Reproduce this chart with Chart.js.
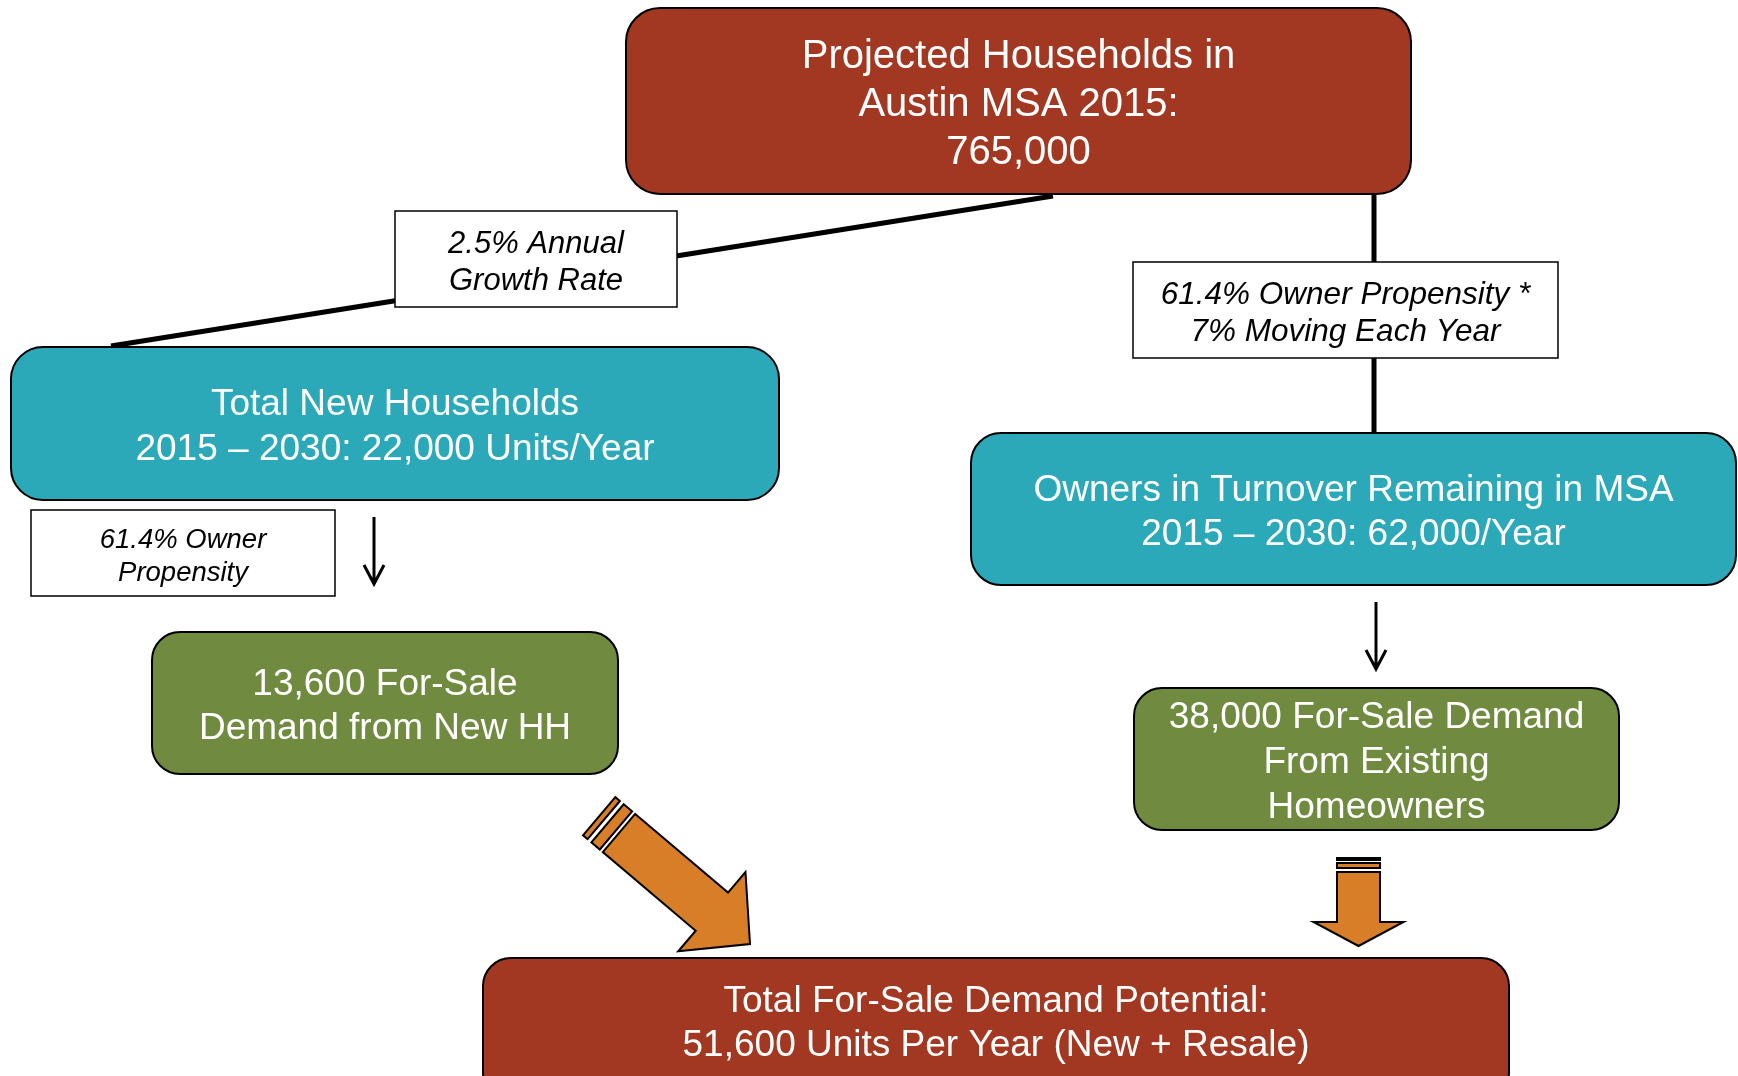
<!DOCTYPE html>
<html>
<head>
<meta charset="utf-8">
<script src="https://cdn.jsdelivr.net/npm/chart.js@4/dist/chart.umd.min.js"></script>
<style>
  html, body { margin: 0; padding: 0; background: #fff; }
  #flow { display: block; }
</style>
</head>
<body>
<canvas id="flow" width="1738" height="1076"></canvas>
<script>
// figures shown in the flow
const households2015 = 765000
const newHouseholdsPerYear = 22000
const newOwnerDemand = 13600
const turnoverOwnersPerYear = 62000
const existingOwnerDemand = 38000
const totalDemand = 51600
const growthRate = 2.5
const ownerPropensity = 61.4
const movingShare = 7
const periodStart = 2015
const periodEnd = 2030

const fmt = n => n.toLocaleString("en-US")

// box texts, one entry per line
const boxLines = [
  ["Projected Households in", "Austin MSA " + periodStart + ":", fmt(households2015)],
  ["Total New Households", periodStart + " \u2013 " + periodEnd + ": " + fmt(newHouseholdsPerYear) + " Units/Year"],
  ["Owners in Turnover Remaining in MSA", periodStart + " \u2013 " + periodEnd + ": " + fmt(turnoverOwnersPerYear) + "/Year"],
  [fmt(newOwnerDemand) + " For-Sale", "Demand from New HH"],
  [fmt(existingOwnerDemand) + " For-Sale Demand", "From Existing", "Homeowners"],
  ["Total For-Sale Demand Potential:", fmt(totalDemand) + " Units Per Year (New + Resale)"],
]
const noteLines = [
  [growthRate + "% Annual", "Growth Rate"],
  [ownerPropensity + "% Owner Propensity *", movingShare + "% Moving Each Year"],
  [ownerPropensity + "% Owner", "Propensity"],
]

const BRICK = "#a23822"
const TEAL = "#2ca9b9"
const OLIVE = "#708b3f"
const ORANGE = "#d87e29"

// layout, in page units (the hidden scales run 0..1738 and 0..1076)
const boxLayout = [
  { x0: 626, y0: 8, x1: 1411, y1: 194, r: 34, fill: BRICK, size: 40, lh: 48 },
  { x0: 11, y0: 347, x1: 779, y1: 500, r: 32, fill: TEAL, size: 37, lh: 45 },
  { x0: 971, y0: 433, x1: 1736, y1: 585, r: 30, fill: TEAL, size: 37, lh: 44 },
  { x0: 152, y0: 632, x1: 618, y1: 774, r: 28, fill: OLIVE, size: 37, lh: 44 },
  { x0: 1134, y0: 688, x1: 1619, y1: 830, r: 28, fill: OLIVE, size: 37, lh: 45 },
  { x0: 483, y0: 958, x1: 1509, y1: 1100, r: 28, fill: BRICK, size: 37, lh: 44, cy: 1020 },
]
const noteLayout = [
  { x0: 395, y0: 211, x1: 677, y1: 307, size: 31, lh: 37 },
  { x0: 1133, y0: 262, x1: 1558, y1: 358, size: 31.5, lh: 37 },
  { x0: 31, y0: 510, x1: 335, y1: 596, size: 27.5, lh: 33 },
]
const thinArrows = [
  { x: 374, y0: 517, y1: 584 },
  { x: 1376, y0: 602, y1: 669 },
]
const blockArrows = [
  { tail: [619, 833], tip: [750, 944], shaftW: 50, headW: 104, headL: 50, stripes: [[-15, -4], [-26, -20]] },
  { tail: [1358.5, 872], tip: [1358.5, 946], shaftW: 43, headW: 90, headL: 24, stripes: [[-9, -4], [-14, -12]] },
]

const connectors = [
  [{ x: 1053, y: 196 }, { x: 111, y: 346 }],
  [{ x: 1374, y: 194 }, { x: 1374, y: 433 }],
]

const flowPlugin = {
  id: "flow",
  afterDatasetsDraw(chart) {
    const { ctx, scales } = chart
    const px = v => scales.x.getPixelForValue(v)
    const py = v => scales.y.getPixelForValue(v)
    ctx.save()

    const drawText = (lines, cx, cy, size, lh, color, italic) => {
      ctx.fillStyle = color
      ctx.font = (italic ? "italic " : "") + size + "px 'Liberation Sans', Arial, sans-serif"
      ctx.textAlign = "center"
      ctx.textBaseline = "middle"
      const top = cy - (lines.length - 1) * lh / 2
      lines.forEach((t, i) => ctx.fillText(t, px(cx), py(top + i * lh) + 4))
    }

    boxLayout.forEach((b, i) => {
      const x = px(b.x0), y = py(b.y0)
      const w = px(b.x1) - x, h = py(b.y1) - y
      ctx.beginPath()
      ctx.roundRect(x, y, w, h, b.r)
      ctx.fillStyle = b.fill
      ctx.fill()
      ctx.lineWidth = 2
      ctx.strokeStyle = "#000"
      ctx.stroke()
      drawText(boxLines[i], (b.x0 + b.x1) / 2, b.cy || (b.y0 + b.y1) / 2, b.size, b.lh, "#fff", false)
    })

    noteLayout.forEach((b, i) => {
      const x = px(b.x0), y = py(b.y0)
      ctx.fillStyle = "#fff"
      ctx.fillRect(x, y, px(b.x1) - x, py(b.y1) - y)
      ctx.lineWidth = 1.5
      ctx.strokeStyle = "#000"
      ctx.strokeRect(x, y, px(b.x1) - x, py(b.y1) - y)
      drawText(noteLines[i], (b.x0 + b.x1) / 2, (b.y0 + b.y1) / 2, b.size, b.lh, "#000", true)
    })

    thinArrows.forEach(a => {
      ctx.strokeStyle = "#000"
      ctx.lineWidth = 3
      ctx.lineJoin = "miter"
      ctx.beginPath()
      ctx.moveTo(px(a.x), py(a.y0))
      ctx.lineTo(px(a.x), py(a.y1) - 2)
      ctx.moveTo(px(a.x - 10), py(a.y1 - 19))
      ctx.lineTo(px(a.x), py(a.y1))
      ctx.lineTo(px(a.x + 10), py(a.y1 - 19))
      ctx.stroke()
    })

    blockArrows.forEach(a => {
      const dx = a.tip[0] - a.tail[0], dy = a.tip[1] - a.tail[1]
      const len = Math.hypot(dx, dy)
      const ux = dx / len, uy = dy / len
      const nx = -uy, ny = ux
      const pt = (s, t) => [px(a.tail[0] + ux * s + nx * t), py(a.tail[1] + uy * s + ny * t)]
      const poly = pts => {
        ctx.beginPath()
        pts.forEach((p, k) => (k ? ctx.lineTo(p[0], p[1]) : ctx.moveTo(p[0], p[1])))
        ctx.closePath()
        ctx.fillStyle = ORANGE
        ctx.fill()
        ctx.lineWidth = 2
        ctx.strokeStyle = "#000"
        ctx.lineJoin = "miter"
        ctx.stroke()
      }
      const sw = a.shaftW / 2, hw = a.headW / 2, base = len - a.headL
      poly([pt(0, -sw), pt(base, -sw), pt(base, -hw), pt(len, 0), pt(base, hw), pt(base, sw), pt(0, sw)])
      a.stripes.forEach(([s0, s1]) => poly([pt(s0, -sw), pt(s1, -sw), pt(s1, sw), pt(s0, sw)]))
    })

    ctx.restore()
  },
}

new Chart(document.getElementById("flow"), {
  type: "scatter",
  data: {
    datasets: connectors.map(points => ({
      data: points,
      showLine: true,
      borderColor: "#000",
      borderWidth: 5,
      pointRadius: 0,
    })),
  },
  options: {
    responsive: false,
    animation: false,
    layout: { padding: 0 },
    scales: {
      x: { type: "linear", min: 0, max: 1738, display: false },
      y: { type: "linear", min: 0, max: 1076, reverse: true, display: false },
    },
    plugins: {
      legend: { display: false },
      tooltip: { enabled: false },
    },
  },
  plugins: [flowPlugin],
})
</script>
</body>
</html>
